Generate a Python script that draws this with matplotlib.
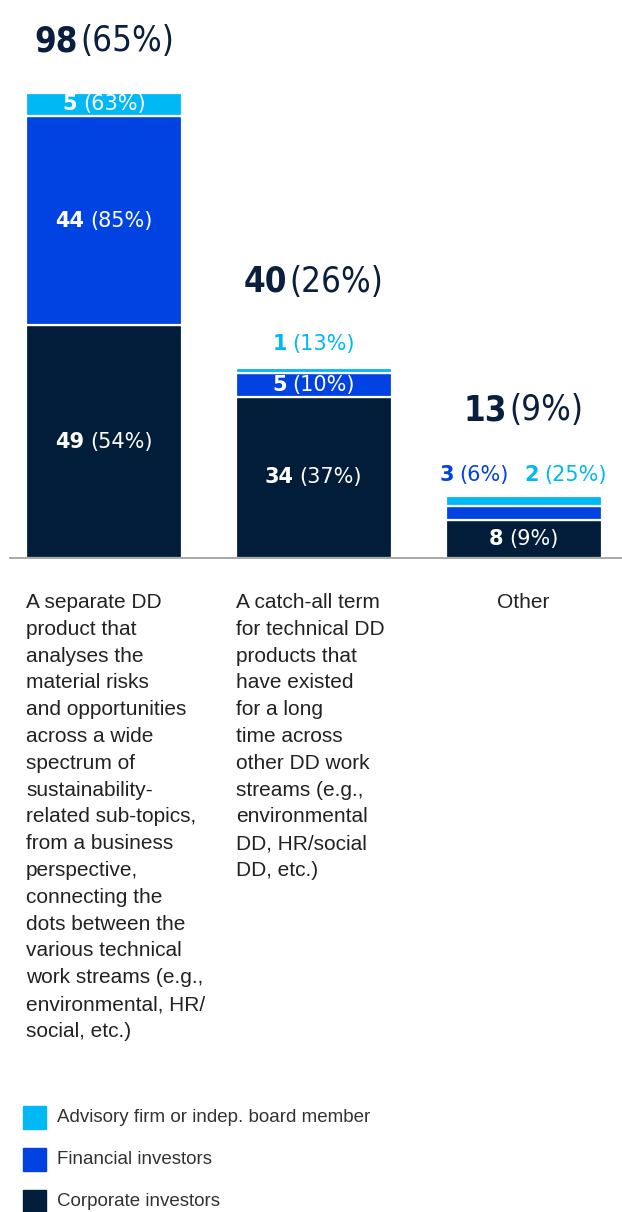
import matplotlib
matplotlib.use("Agg")
import matplotlib.pyplot as plt
from matplotlib import font_manager
from matplotlib.offsetbox import TextArea, HPacker, AnnotationBbox
from matplotlib.patches import Rectangle

# ---- data ----
CATEGORIES = [
    "A separate DD\nproduct that\nanalyses the\nmaterial risks\nand opportunities\nacross a wide\n"
    "spectrum of\nsustainability-\nrelated sub-topics,\nfrom a business\nperspective,\nconnecting the\n"
    "dots between the\nvarious technical\nwork streams (e.g.,\nenvironmental, HR/\nsocial, etc.)",
    "A catch-all term\nfor technical DD\nproducts that\nhave existed\nfor a long\ntime across\n"
    "other DD work\nstreams (e.g.,\nenvironmental\nDD, HR/social\nDD, etc.)",
    "Other",
]
CORPORATE = [49, 34, 8]
FINANCIAL = [44, 5, 3]
ADVISORY = [5, 1, 2]
CORPORATE_PCT = [54, 37, 9]
FINANCIAL_PCT = [85, 10, 6]
ADVISORY_PCT = [63, 13, 25]
TOTALS = [98, 40, 13]
TOTAL_PCT = [65, 26, 9]
SERIES = ["Advisory firm or indep. board member", "Financial investors", "Corporate investors"]

NAVY = "#011D3A"
BLUE = "#0042E2"
CYAN = "#00B9F4"
TEXT = "#222222"

W, H, DPI = 622, 1212, 100
BASE_Y = 558          # baseline, px from top
PX_PER_UNIT = 4.75
PT = 72 / DPI         # px -> points

# condensed face for the big totals, if one is installed
fonts = font_manager.fontManager.ttflist
if any(f.name == "Liberation Sans Narrow" for f in fonts):
    NARROW, STRETCH = "Liberation Sans Narrow", "normal"
else:
    NARROW, STRETCH = "DejaVu Sans", "condensed"
LABEL_FONT = "Liberation Sans"
NUM_FONT = "DejaVu Sans"

fig = plt.figure(figsize=(W / DPI, H / DPI), dpi=DPI)
ax = fig.add_axes([0, 1 - BASE_Y / H, 1, BASE_Y / H])
ax.set_xlim(0, W)
ax.set_ylim(0, BASE_Y / PX_PER_UNIT)
ax.axis("off")

xpos = [104, 313.5, 523.5]
bw = 156

colors = [NAVY, BLUE, CYAN]
stack = [CORPORATE, FINANCIAL, ADVISORY]
pcts = [CORPORATE_PCT, FINANCIAL_PCT, ADVISORY_PCT]

bottom = [0, 0, 0]
for vals, c in zip(stack, colors):
    ax.bar(xpos, vals, width=bw, bottom=bottom, color=c, edgecolor="white", linewidth=1.6)
    bottom = [b + v for b, v in zip(bottom, vals)]

# baseline
ax.plot([10, W], [0, 0], color="#9a9a9a", lw=1.2, clip_on=False, zorder=5)


def mixed(x, y, num, pct, color, size, family, offset=(0, 0), align=(0.5, 0.5),
          sep=4, stretch="normal"):
    a = TextArea(str(num), textprops=dict(color=color, fontsize=size, fontweight="bold",
                                          family=family, fontstretch=stretch))
    b = TextArea(f"({pct}%)", textprops=dict(color=color, fontsize=size,
                                             family=family, fontstretch=stretch))
    box = HPacker(children=[a, b], align="baseline", pad=0, sep=sep)
    ab = AnnotationBbox(box, (x, y), xybox=offset, xycoords="data",
                        boxcoords="offset points", box_alignment=align,
                        frameon=False, pad=0, annotation_clip=False)
    ax.add_artist(ab)


for i, x in enumerate(xpos):
    base = 0
    outside = []
    for s, (vals, c) in enumerate(zip(stack, colors)):
        v = vals[i]
        if v * PX_PER_UNIT >= 20:
            mixed(x, base + v / 2, v, pcts[s][i], "white", 15, NUM_FONT)
        else:
            outside.append((v, pcts[s][i], c))
        base += v
    top = base
    if outside:
        if len(outside) == 1:
            v, p, c = outside[0]
            mixed(x, top, v, p, c, 15, NUM_FONT, offset=(0, 24 * PT))
        else:
            (v1, p1, c1), (v2, p2, c2) = outside
            mixed(x, top, v1, p1, c1, 15, NUM_FONT, offset=(-15 * PT, 21 * PT), align=(1, 0.5))
            mixed(x, top, v2, p2, c2, 15, NUM_FONT, offset=(0.5 * PT, 21 * PT), align=(0, 0.5))
        total_off = 24 + 62
    else:
        total_off = 51
    mixed(x, top, TOTALS[i], TOTAL_PCT[i], "#0A1F3D", 25, NARROW,
          offset=(0, total_off * PT), sep=2, stretch=STRETCH)

# category descriptions
label_x = [26, 236, 523]
for i, txt in enumerate(CATEGORIES):
    ha = "center" if i == 2 else "left"
    fig.text(label_x[i] / W, 1 - 593 / H, txt, ha=ha, va="top", fontsize=15,
             family=LABEL_FONT, color=TEXT, linespacing=1.52)

# legend
for k, (name, c) in enumerate(zip(SERIES, [CYAN, BLUE, NAVY])):
    yc = 1117 + k * 42.5
    fig.patches.append(Rectangle((23 / W, 1 - (yc + 11.5) / H), 23 / W, 23 / H,
                                 transform=fig.transFigure, color=c))
    fig.text(57 / W, 1 - yc / H, name, ha="left", va="center", fontsize=13.5,
             family=LABEL_FONT, color="#333333")

fig.savefig("out.png", dpi=DPI, facecolor="white")
